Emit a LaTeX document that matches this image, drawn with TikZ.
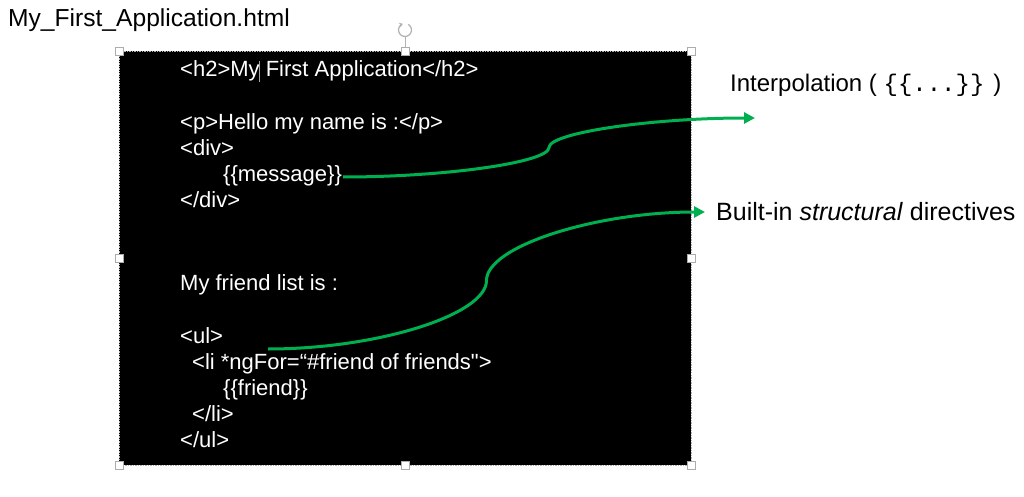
\documentclass[tikz,border=0pt]{standalone}
\usepackage{fontspec}
\setmainfont{Liberation Sans}
\setmonofont{Liberation Mono}
\usetikzlibrary{arrows.meta}
\definecolor{arrowgreen}{RGB}{0,176,80}
\begin{document}
\begin{tikzpicture}[x=1pt,y=-1pt,
  code/.style={anchor=base west, inner sep=0pt, text=white, font=\fontsize{22}{26}\selectfont},
  desc/.style={anchor=base west, inner sep=0pt, text=black, font=\fontsize{25}{30}\selectfont},
  handle/.style={draw=gray!65, fill=white, rectangle, minimum size=8pt, inner sep=0pt, line width=0.8pt},
  callout/.style={draw=arrowgreen, line width=3pt, -{Triangle[length=11pt,width=11pt]}},
  selborder/.style={draw=gray!60, line width=0.6pt, dash pattern=on 1.5pt off 1pt},
]
\useasboundingbox (0,0) rectangle (1024,497);
\fill[white] (0,0) rectangle (1024,497);

% title
\node[desc, font=\fontsize{24.6}{30}\selectfont] (title) at (8,27) {My\_First\_Application.html};

% code panel
\fill[black] (119,51) rectangle (691,465);
\draw[selborder] (119,51) rectangle (691,465);

\node[code] (l1)  at (180,77)  {<h2>My First Application</h2>};
\node[code] (l2)  at (180,130) {<p>Hello my name is :</p>};
\node[code] (l3)  at (180,156) {<div>};
\node[code] (msg) at (223,182) {\{\{message\}\}};
\node[code] (l5)  at (180,207) {</div>};
\node[code] (l6)  at (180,290) {My friend list is :};
\node[code] (ul)  at (180,343) {<ul>};
\node[code] (li)  at (192,369) {<li *ngFor=“\#friend of friends\textquotedbl>};
\node[code] (fr)  at (223,395) {\{\{friend\}\}};
\node[code] (l10) at (192,421) {</li>};
\node[code] (l11) at (180,447) {</ul>};

% text cursor
\draw[gray!70, line width=0.8pt] (259.5,61) -- (259.5,82);

% selection handles
\node[handle] (h1) at (119,51) {};
\node[handle] (h2) at (405,51) {};
\node[handle] (h3) at (691,51) {};
\node[handle] (h4) at (119,258) {};
\node[handle] (h5) at (691,258) {};
\node[handle] (h6) at (119,465) {};
\node[handle] (h7) at (405,465) {};
\node[handle] (h8) at (691,465) {};

% rotate handle
\coordinate (rot) at (405,30);
\draw[gray!60, line width=0.8pt] (h2.north) -- (405,36.5);
\draw[gray!60, line width=1.2pt, -{Stealth[length=3.5pt,width=5pt]}] (rot) ++(-60:6.5) arc[start angle=-60, end angle=250, radius=6.5];

% labels
\node[desc, font=\fontsize{24}{30}\selectfont] (interp) at (730,92) {Interpolation ( {\ttfamily\{\{...\}\}} )};
\node[desc] (built) at (716,220) {Built-in \textit{structural} directives};

% connectors
\coordinate (msgend) at (343,177);
\coordinate (interpend) at (755,118);
\coordinate (ulend) at (268,349);
\coordinate (builtend) at (705,212);

\draw[callout] (msgend) .. controls (446,177) and (549,162.25) .. (549,147.5)
  .. controls (549,132.75) and (652,118) .. (interpend);
\draw[callout] (ulend) .. controls (377.25,349) and (486.5,314.75) .. (486.5,280.5)
  .. controls (486.5,246.25) and (595.75,212) .. (builtend);
\end{tikzpicture}
\end{document}
